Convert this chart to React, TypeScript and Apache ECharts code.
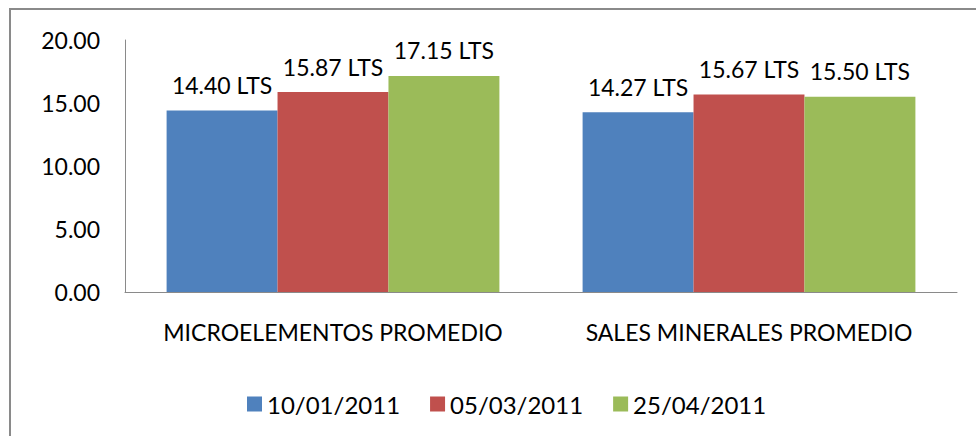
import React, { useEffect, useRef } from "react";
import * as echarts from "echarts";

const categories = ["MICROELEMENTOS PROMEDIO", "SALES MINERALES PROMEDIO"];
const seriesNames = ["10/01/2011", "05/03/2011", "25/04/2011"];
const s1 = [14.4, 14.27];
const s2 = [15.87, 15.67];
const s3 = [17.15, 15.5];
const colors = ["#4F81BD", "#C0504D", "#9BBB59"];

const FONT = "Lato, 'Open Sans', sans-serif";

export default function App() {
  const ref = useRef<HTMLDivElement>(null);
  useEffect(() => {
    if (!ref.current) return;
    const chart = echarts.init(ref.current, null, { renderer: "svg" });
    const values = [s1, s2, s3];
    chart.setOption({
      animation: false,
      textStyle: { fontFamily: FONT },
      graphic: [
        {
          type: "rect",
          shape: { x: 10, y: 9, width: 1000, height: 1000 },
          style: { fill: "none", stroke: "#8a8a8a", lineWidth: 2 },
          silent: true,
        },
      ],
      grid: { left: 125, right: 19, top: 40, bottom: 144, containLabel: false },
      legend: {
        data: seriesNames,
        top: 392,
        left: 247,
        padding: 0,
        itemWidth: 15,
        itemHeight: 15,
        itemGap: 30,
        icon: "rect",
        textStyle: { fontSize: 24, color: "#000", fontFamily: FONT, fontWeight: "normal" },
      },
      xAxis: {
        type: "category",
        data: categories,
        axisLine: { lineStyle: { color: "#8a8a8a", width: 1 } },
        axisTick: { show: false },
        axisLabel: {
          interval: 0,
          hideOverlap: false,
          fontSize: 23,
          color: "#000",
          margin: 28,
          fontFamily: FONT,
        },
      },
      yAxis: {
        type: "value",
        min: 0,
        max: 20,
        interval: 5,
        axisLine: { show: true, lineStyle: { color: "#8a8a8a", width: 1 } },
        axisTick: { show: false },
        splitLine: { show: false },
        axisLabel: {
          fontSize: 23,
          color: "#000",
          margin: 25,
          fontFamily: FONT,
          formatter: (v: number) => v.toFixed(2),
        },
      },
      series: seriesNames.map((name, i) => ({
        name,
        type: "bar",
        data: values[i],
        barGap: "0%",
        barCategoryGap: "20%",
        itemStyle: { color: colors[i] },
        label: {
          show: true,
          position: "top",
          distance: 14,
          fontSize: 23,
          color: "#000",
          fontFamily: FONT,
          formatter: (p: any) => p.value.toFixed(2) + " LTS",
        },
      })),
    });
    return () => chart.dispose();
  }, []);
  return (
    <div
      ref={ref}
      style={{ position: "absolute", left: 0, top: 0, width: 976, height: 436, background: "#fff" }}
    />
  );
}
